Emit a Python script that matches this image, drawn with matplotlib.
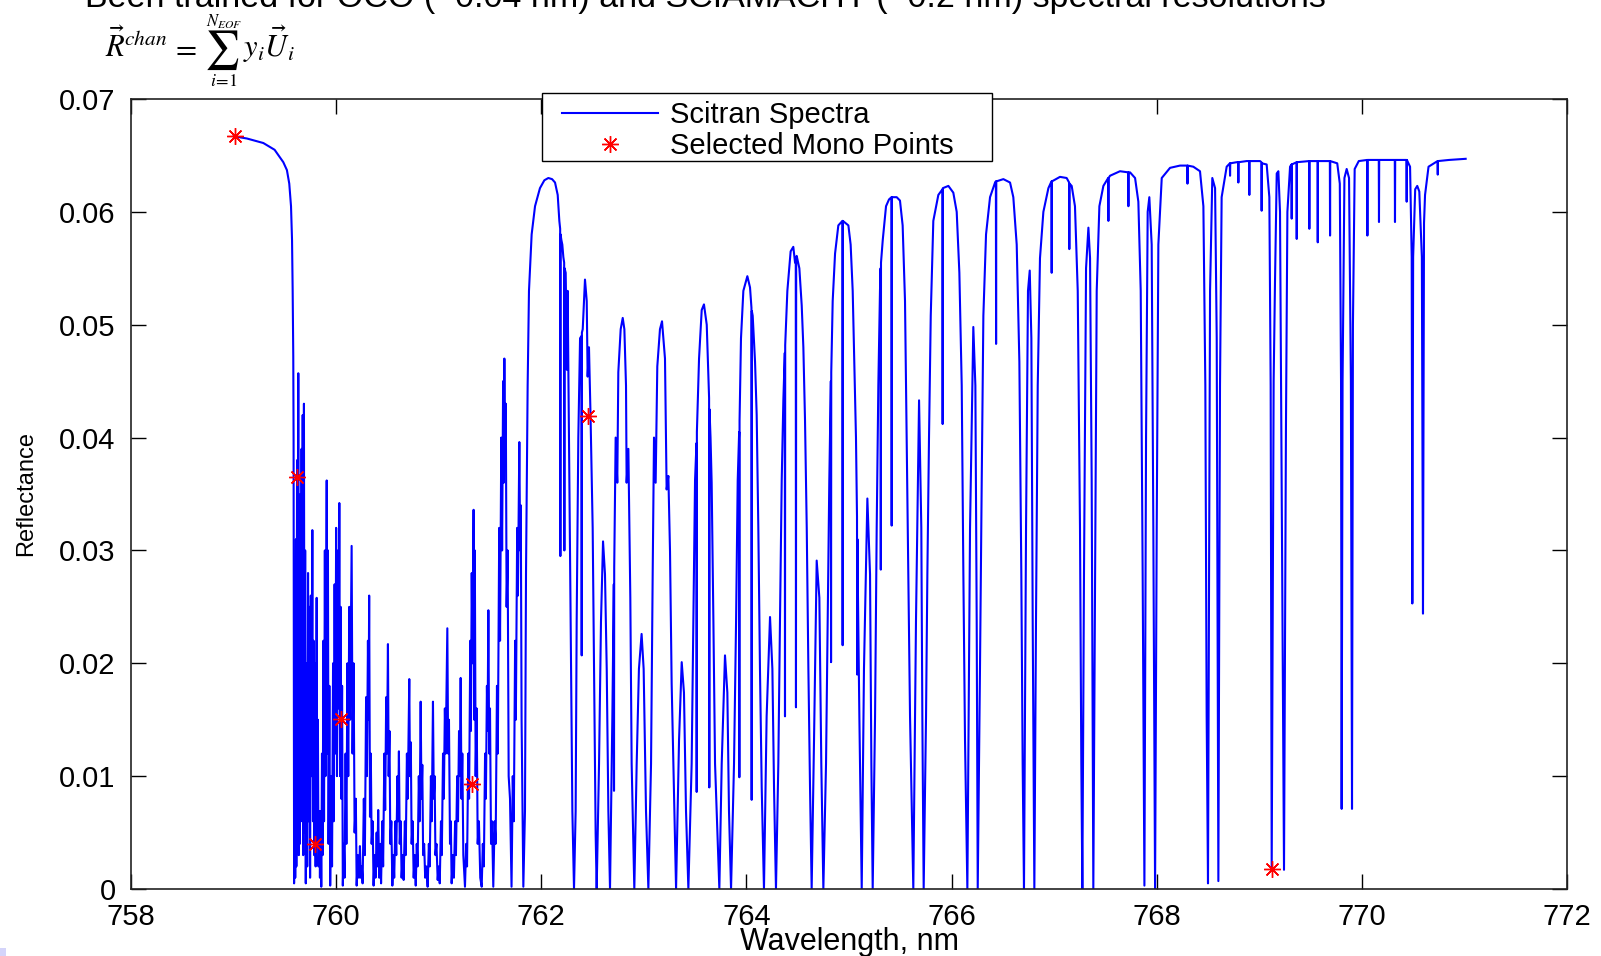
import numpy as np
import matplotlib
matplotlib.use("Agg")
import matplotlib.pyplot as plt
from matplotlib.patches import Rectangle

plt.rcParams['font.family'] = ['Liberation Sans', 'DejaVu Sans']
plt.rcParams['mathtext.fontset'] = 'stix'

# ---------------- data (wavelength nm, reflectance) ----------------
band_head = [(759.00, 0.0667), (759.13, 0.0665), (759.29, 0.0661), (759.40, 0.0655), (759.485, 0.0644),
             (759.52, 0.0637), (759.543, 0.0625), (759.56, 0.0605), (759.57, 0.0575), (759.576, 0.0531),
             (759.582, 0.0472), (759.585, 0.0400), (759.588, 0.0200), (759.59, 0.0005)]

r_branch = [(759.597,0.028),(759.601,0.001),(759.608,0.031),(759.612,0.002),(759.619,0.038),(759.624,0.010),
            (759.631,0.0457),(759.636,0.003),(759.641,0.030),(759.646,0.004),(759.652,0.035),(759.657,0.006),
            (759.663,0.039),(759.668,0.012),(759.674,0.042),(759.679,0.003),(759.686,0.043),(759.692,0.005),
            (759.698,0.030),(759.704,0.0005),(759.712,0.020),(759.718,0.002),(759.726,0.028),(759.732,0.006),
            (759.740,0.025),(759.746,0.001),(759.753,0.026),(759.760,0.010),(759.768,0.0318),(759.774,0.006),
            (759.780,0.022),(759.786,0.003),(759.794,0.020),(759.800,0.002),(759.810,0.0258),(759.816,0.004),
            (759.822,0.015),(759.828,0.002),(759.836,0.0069),(759.842,0.001),(759.849,0.0069),(759.855,0.0002),
            (759.862,0.012),(759.868,0.003),(759.876,0.022),(759.882,0.006),(759.890,0.030),(759.896,0.010),
            (759.908,0.0362),(759.914,0.012),(759.920,0.030),(759.926,0.004),(759.934,0.018),(759.942,0.0003),
            (759.952,0.010),(759.960,0.002),(759.970,0.020),(759.976,0.006),(759.985,0.027),(759.992,0.012),
            (760.000,0.032),(760.008,0.010),(760.018,0.030),(760.024,0.016),(760.031,0.0342),(760.038,0.010),
            (760.044,0.025),(760.050,0.008),(760.058,0.018),(760.065,0.0003),(760.075,0.004),(760.082,0.001),
            (760.092,0.012),(760.100,0.004),(760.110,0.020),(760.118,0.010),(760.128,0.025),(760.136,0.015),
            (760.151,0.0304),(760.160,0.012),(760.170,0.020),(760.180,0.005),(760.192,0.008),(760.200,0.0003),
            (760.212,0.003),(760.222,0.001),(760.232,0.0038),(760.240,0.001),(760.250,0.002),(760.258,0.0005),
            (760.270,0.008),(760.280,0.003),(760.292,0.017),(760.300,0.010),(760.310,0.022),(760.316,0.015),
            (760.322,0.026),(760.330,0.0064),(760.338,0.012),(760.346,0.004),(760.356,0.006),(760.365,0.0003),
            (760.375,0.003),(760.384,0.001),(760.395,0.005),(760.402,0.002),(760.410,0.007),(760.420,0.001),
            (760.430,0.004),(760.438,0.0005),(760.450,0.006),(760.458,0.002),(760.470,0.012),(760.478,0.007),
            (760.488,0.017),(760.496,0.012),(760.505,0.0217),(760.512,0.010),(760.520,0.014),(760.528,0.004),
            (760.538,0.006),(760.548,0.0003),(760.558,0.003),(760.566,0.001),(760.578,0.006),(760.586,0.003),
            (760.598,0.010),(760.604,0.006),(760.612,0.0122),(760.620,0.004),(760.630,0.006),(760.638,0.001),
            (760.650,0.003),(760.658,0.0008),(760.670,0.006),(760.678,0.003),(760.690,0.012),(760.698,0.008),
            (760.713,0.0186),(760.720,0.010),(760.728,0.013),(760.736,0.004),(760.746,0.006),(760.756,0.001),
            (760.766,0.003),(760.776,0.0003),(760.786,0.004),(760.794,0.002),(760.806,0.010),(760.814,0.006),
            (760.824,0.0166),(760.832,0.008),(760.840,0.011),(760.848,0.003),(760.858,0.004),(760.868,0.001),
            (760.880,0.002),(760.892,0.0002),(760.904,0.004),(760.912,0.002),(760.924,0.010),(760.932,0.006),
            (760.944,0.0166),(760.952,0.008),(760.960,0.010),(760.968,0.003),(760.978,0.004),(760.990,0.0008),
            (761.000,0.002),(761.010,0.0005),(761.022,0.006),(761.030,0.003),(761.042,0.012),(761.050,0.008),
            (761.060,0.016),(761.068,0.012),(761.084,0.0231),(761.092,0.012),(761.100,0.015),(761.110,0.004),
            (761.118,0.006),(761.126,0.0005),(761.138,0.003),(761.148,0.001),(761.160,0.006),(761.168,0.003),
            (761.180,0.010),(761.188,0.006),(761.198,0.014),(761.206,0.010),(761.214,0.0187),(761.222,0.008),
            (761.230,0.012),(761.240,0.003),(761.256,0.0002),(761.268,0.004),(761.276,0.002),(761.288,0.012),
            (761.296,0.008),(761.308,0.022),(761.314,0.014),(761.322,0.028),(761.330,0.020),(761.340,0.0336),
            (761.346,0.015),(761.352,0.030),(761.360,0.010),(761.370,0.016),(761.380,0.004),(761.392,0.006),
            (761.405,0.001),(761.419,0.0002),(761.430,0.004),(761.440,0.002),(761.452,0.012),(761.460,0.008),
            (761.470,0.018),(761.476,0.014),(761.484,0.0247),(761.492,0.012),(761.500,0.016),(761.510,0.004),
            (761.520,0.006),(761.532,0.0002),(761.545,0.006),(761.555,0.004),(761.568,0.018),(761.576,0.012),
            (761.590,0.032),(761.598,0.022),(761.610,0.040),(761.618,0.030),(761.628,0.045),(761.634,0.036),
            (761.640,0.047),(761.646,0.038),(761.654,0.043),(761.662,0.025),(761.672,0.030),(761.682,0.010),
            (761.695,0.008),(761.710,0.0002),(761.722,0.010),(761.732,0.006),(761.745,0.022),(761.752,0.015),
            (761.765,0.032),(761.772,0.026),(761.786,0.0396),(761.794,0.030),(761.800,0.034),(761.808,0.015),
            (761.816,0.008),(761.825,0.0002),(761.834,0.004)]

p_branch_a = [(761.841,0.0069),(761.851,0.0279),(761.867,0.0446),(761.880,0.0530),(761.906,0.0580),(761.939,0.0605),
              (761.987,0.0621),(762.030,0.0628),(762.069,0.0630),(762.105,0.0629),(762.134,0.0626),(762.160,0.0615),
              (762.176,0.0592),(762.184,0.0585),(762.186,0.0295),(762.188,0.0580),(762.196,0.0575),(762.205,0.0571),
              (762.215,0.0560),(762.223,0.0555),(762.225,0.0300),(762.227,0.0550),(762.238,0.0546),(762.250,0.0460),
              (762.257,0.0530),(762.265,0.0450),(762.273,0.0360),(762.286,0.0237),(762.303,0.0069),(762.319,0.0),
              (762.335,0.0069),(762.345,0.0237),(762.361,0.0400),(762.378,0.0488),(762.392,0.0490),(762.394,0.0207),
              (762.396,0.0493),(762.404,0.0496),(762.426,0.0540),(762.443,0.0521),(762.452,0.0454),(762.465,0.0480),
              (762.480,0.0420),(762.501,0.0320),(762.514,0.0195),(762.530,0.0049),(762.540,0.0),
              (762.563,0.0111),(762.582,0.0237),(762.602,0.0308),(762.621,0.0279),(762.638,0.0195),(762.654,0.0069),
              (762.670,0.0),
              (762.693,0.0153),(762.707,0.0270),(762.709,0.0087),(762.711,0.0285),(762.725,0.0400),(762.741,0.0360),
              (762.751,0.0458),(762.774,0.0496),(762.794,0.0506),(762.810,0.0496),(762.826,0.0446),(762.832,0.0360),
              (762.849,0.0390),(762.868,0.0258),(762.881,0.0111),(762.907,0.0),
              (762.930,0.0111),(762.952,0.0195),(762.978,0.0226),(762.998,0.0195),(763.021,0.0069),(763.044,0.0),
              (763.070,0.0111),(763.086,0.0279),(763.099,0.0400),(763.115,0.0360),(763.131,0.0463),(763.157,0.0496),
              (763.177,0.0503),(763.206,0.0470),(763.222,0.0354),(763.239,0.0366),(763.255,0.0299),(763.271,0.0182),
              (763.288,0.0111),(763.314,0.0),
              (763.343,0.0132),(763.369,0.0201),(763.391,0.0174),(763.411,0.0069),(763.434,0.0),
              (763.466,0.0111),(763.483,0.0237),(763.499,0.0362),(763.513,0.0395),(763.515,0.0086),(763.517,0.0405),
              (763.538,0.0470),(763.564,0.0513),(763.586,0.0518),(763.613,0.0500),(763.629,0.0454),(763.636,0.0435),
              (763.638,0.0090),(763.640,0.0425),(763.650,0.0400),(763.661,0.0360),(763.678,0.0237),(763.694,0.0111),
              (763.736,0.0),
              (763.759,0.0111),(763.791,0.0207),(763.814,0.0174),(763.830,0.0069),(763.850,0.0),
              (763.879,0.0111),(763.899,0.0237),(763.915,0.0362),(763.929,0.0405),(763.931,0.0099),(763.933,0.0415),
              (763.947,0.0488),(763.970,0.0530),(764.009,0.0543),(764.035,0.0533),(764.049,0.0515),(764.051,0.0079),
              (764.053,0.0512),(764.061,0.0508),(764.084,0.0467),(764.100,0.0420),(764.116,0.0320),(764.132,0.0195),
              (764.149,0.0090),(764.171,0.0),
              (764.197,0.0153),(764.230,0.0241),(764.253,0.0195),(764.269,0.0090),(764.288,0.0),
              (764.311,0.0111),(764.327,0.0237),(764.344,0.0362),(764.360,0.0433),(764.374,0.0475),(764.376,0.0153),
              (764.378,0.0482),(764.399,0.0530),(764.431,0.0565),(764.457,0.0569),(764.474,0.0555),(764.481,0.0558),
              (764.483,0.0161),(764.485,0.0559),(764.490,0.0561),(764.516,0.0550),(764.539,0.0517),(764.555,0.0480),
              (764.571,0.0416),(764.588,0.0320),(764.604,0.0195),(764.620,0.0090),(764.636,0.0),
              (764.659,0.0132),(764.685,0.0291),(764.711,0.0258),(764.730,0.0111),(764.750,0.0),
              (764.776,0.0111),(764.792,0.0237),(764.808,0.0362),(764.823,0.0450),(764.825,0.0201),(764.827,0.0458),
              (764.841,0.0521),(764.864,0.0563),(764.896,0.0588),(764.936,0.0592),(764.938,0.0216),(764.940,0.0592),
              (764.994,0.0588),(765.016,0.0571),(765.036,0.0530),(765.052,0.0467),(765.068,0.0400),(765.078,0.0330),
              (765.080,0.0190),(765.082,0.0310),(765.085,0.0279),(765.101,0.0153),(765.124,0.0),
              (765.146,0.0195),(765.179,0.0346),(765.205,0.0279),(765.218,0.0111),(765.231,0.0)]

p_branch_b = [(765.254,0.0153),(765.270,0.0320),(765.286,0.0446),(765.302,0.0530),(765.308,0.0550),(765.310,0.0283),
              (765.312,0.0555),(765.329,0.0575),(765.361,0.0605),(765.390,0.0611),(765.414,0.0613),(765.416,0.0322),
              (765.418,0.0613),(765.465,0.0613),(765.497,0.0610),(765.523,0.0588),(765.546,0.0521),(765.562,0.0400),
              (765.579,0.0279),(765.595,0.0153),(765.627,0.0),
              (765.653,0.0237),(765.683,0.0433),(765.705,0.0320),(765.715,0.0153),(765.728,0.0),
              (765.751,0.0153),(765.764,0.0279),(765.780,0.0400),(765.797,0.0508),(765.822,0.0592),(765.871,0.0615),
              (765.911,0.0620),(765.913,0.0412),(765.915,0.0621),(765.969,0.0623),(766.017,0.0617),(766.050,0.0600),
              (766.076,0.0546),(766.099,0.0446),(766.115,0.0279),(766.131,0.0132),(766.154,0.0),
              (766.180,0.0320),(766.212,0.0498),(766.232,0.0446),(766.245,0.0237),(766.255,0.0),
              (766.277,0.0195),(766.294,0.0362),(766.310,0.0508),(766.336,0.0580),(766.375,0.0613),(766.424,0.0626),
              (766.432,0.0627),(766.434,0.0483),(766.436,0.0627),(766.505,0.0629),(766.570,0.0626),(766.602,0.0613),
              (766.635,0.0571),(766.661,0.0467),(766.680,0.0279),(766.693,0.0111),(766.706,0.0),
              (766.726,0.0320),(766.745,0.0530),(766.762,0.0548),(766.778,0.0488),(766.791,0.0237),(766.807,0.0),
              (766.823,0.0237),(766.840,0.0446),(766.862,0.0559),(766.895,0.0600),(766.944,0.0621),(766.974,0.0627),
              (766.976,0.0546),(766.978,0.0627),(767.057,0.0631),(767.122,0.0630),(767.146,0.0626),(767.148,0.0567),
              (767.150,0.0625),(767.171,0.0623),(767.203,0.0605),(767.230,0.0530),(767.252,0.0320),(767.265,0.0111),
              (767.275,0.0),
              (767.291,0.0279),(767.311,0.0550),(767.334,0.0586),(767.350,0.0559),(767.366,0.0362),(767.382,0.0),
              (767.399,0.0279),(767.415,0.0530),(767.441,0.0605),(767.480,0.0623),(767.527,0.0630),(767.529,0.0592),
              (767.531,0.0630),(767.545,0.0632),(767.642,0.0636),(767.722,0.0635),(767.724,0.0605),(767.726,0.0635),
              (767.740,0.0635),(767.789,0.0630),(767.821,0.0609),(767.844,0.0530),(767.863,0.0279),(767.880,0.0003),
              (767.896,0.0400),(767.912,0.0600),(767.928,0.0613),(767.951,0.0571),(767.967,0.0320),(767.984,0.0),
              (768.000,0.0320),(768.016,0.0571),(768.049,0.0630),(768.130,0.0639),(768.227,0.0641),(768.298,0.0641),
              (768.300,0.0625),(768.302,0.0641),(768.357,0.0640),(768.422,0.0636),(768.455,0.0605),(768.474,0.0446),
              (768.487,0.0153),(768.500,0.0005),
              (768.520,0.0530),(768.542,0.0630),(768.569,0.0621),(768.585,0.0488),(768.601,0.0007),
              (768.617,0.0446),(768.633,0.0613),(768.682,0.0640),(768.713,0.0643),(768.715,0.0632),(768.717,0.0643),
              (768.780,0.0644),(768.794,0.0644),(768.796,0.0626),(768.798,0.0644),(768.877,0.0645),(768.901,0.0645),
              (768.903,0.0615),(768.905,0.0645),(769.007,0.0645),(769.021,0.0644),(769.023,0.0601),(769.025,0.0643),
              (769.072,0.0642),(769.098,0.0613),(769.111,0.0446),(769.121,0.0017),
              (769.140,0.0450),(769.153,0.0537),(769.170,0.0634),(769.186,0.0636),(769.202,0.0600),(769.218,0.0367),
              (769.241,0.0017),
              (769.260,0.0409),(769.274,0.0600),(769.300,0.0640),(769.314,0.0642),(769.316,0.0594),(769.318,0.0642),
              (769.363,0.0644),(769.365,0.0576),(769.367,0.0644),(769.486,0.0645),(769.488,0.0585),(769.490,0.0645),
              (769.568,0.0645),(769.570,0.0573),(769.572,0.0645),(769.688,0.0645),(769.690,0.0579),(769.692,0.0645),
              (769.760,0.0643),(769.785,0.0625),(769.797,0.0450),(769.803,0.0071),(769.812,0.0450),(769.830,0.0630),
              (769.852,0.0638),(769.875,0.0630),(769.893,0.0450),(769.904,0.0071),(769.913,0.0500),(769.930,0.0638),
              (769.970,0.0645),(770.052,0.0646),(770.054,0.0579),(770.056,0.0646),(770.165,0.0646),(770.167,0.0591),
              (770.169,0.0646),(770.321,0.0646),(770.323,0.0591),(770.325,0.0646),(770.435,0.0646),(770.437,0.0609),
              (770.439,0.0646),(770.470,0.0640),(770.486,0.0560),(770.492,0.0253),(770.500,0.0560),(770.520,0.0620),
              (770.540,0.0623),(770.560,0.0618),(770.585,0.0560),(770.596,0.0244),(770.606,0.0590),(770.616,0.0615),
              (770.650,0.0640),(770.738,0.0645),(770.740,0.0633),(770.742,0.0645),(770.850,0.0646),(771.012,0.0647)]

mono_wl = [759.01, 759.62, 759.79, 760.05, 761.32, 762.46, 769.12]
mono_refl = [0.0667, 0.0365, 0.0040, 0.0151, 0.0093, 0.0419, 0.0018]

x_ticks = [758, 760, 762, 764, 766, 768, 770, 772]
x_tick_labels = ['758', '760', '762', '764', '766', '768', '770', '772']
y_ticks = [0, 0.01, 0.02, 0.03, 0.04, 0.05, 0.06, 0.07]
y_tick_labels = ['0', '0.01', '0.02', '0.03', '0.04', '0.05', '0.06', '0.07']
legend_labels = ['Scitran Spectra', 'Selected Mono Points']
x_label = 'Wavelength, nm'
y_label = 'Reflectance'
header_text = 'Been trained for OCO (~0.04 nm) and SCIAMACHY (~0.2 nm) spectral resolutions'
formula_lhs = r'$\vec{R}^{chan}$'
formula_eq = r'$=$'
formula_sum = r'$\sum$'
formula_upper = r'$N_{EOF}$'
formula_lower = r'$i\!=\!1$'
formula_rhs = r'$y_i\vec{U}_i$'

# ---------------- figure ----------------
W, H = 1601, 956
fig = plt.figure(figsize=(W / 100, H / 100), dpi=100)
ax = fig.add_axes([131 / W, (H - 889) / H, 1436 / W, 790 / H])


def fx(px):
    return px / W


def fy(py):
    return 1 - py / H


spectrum = band_head + r_branch + p_branch_a + p_branch_b
wl = np.array([p[0] for p in spectrum])
refl = np.array([p[1] for p in spectrum])

spec_line, = ax.plot(wl, refl, color='#0000ff', lw=1.5, zorder=2)
mono_pts, = ax.plot(mono_wl, mono_refl, linestyle='none', marker=(8, 2, 0), markersize=12,
                    markeredgecolor='#ff0000', markerfacecolor='#ff0000', markeredgewidth=1.0,
                    zorder=3, clip_on=False)

ax.set_xlim(758, 772)
ax.set_ylim(0, 0.07)
ax.set_xticks(x_ticks)
ax.set_xticklabels(x_tick_labels)
ax.set_yticks(y_ticks)
ax.set_yticklabels(y_tick_labels)
ax.tick_params(direction='in', length=11, width=1.0, top=True, right=True,
               labelsize=21, colors='black')
ax.tick_params(axis='x', pad=10)
ax.tick_params(axis='y', pad=11)
for s in ax.spines.values():
    s.set_linewidth(1.2)
    s.set_color('#222222')

ax.set_xlabel(x_label, fontsize=22, va='top')
ax.xaxis.set_label_coords(0.5, (889 - 927) / 790)
ax.set_ylabel(y_label, fontsize=17, va='center')
ax.yaxis.set_label_coords((26.5 - 131) / 1436, 0.5)

# legend: frame drawn as a box matching the reference, entries via the library's legend
legend_box = Rectangle((fx(542), fy(161)), (992 - 542) / W, (161 - 93) / H,
                       transform=fig.transFigure, facecolor='white', edgecolor='black',
                       linewidth=1.0, zorder=4, clip_on=False)
ax.add_patch(legend_box)
leg = ax.legend([spec_line, mono_pts], legend_labels, loc='upper left',
                bbox_to_anchor=(fx(562), fy(101)), bbox_transform=fig.transFigure,
                fontsize=21, frameon=False, handlelength=3.3, handletextpad=0.4,
                borderpad=0, labelspacing=0.12, borderaxespad=0, numpoints=1)
leg.set_zorder(5)

fig.text(fx(85), fy(7.5), header_text, fontsize=24.5, ha='left', va='baseline')
fig.text(fx(105), fy(57), formula_lhs, fontsize=22, ha='left', va='baseline')
fig.text(fx(171), fy(57), formula_eq, fontsize=22, ha='left', va='baseline')
fig.text(fx(222), fy(50), formula_sum, fontsize=28, ha='center', va='center')
fig.text(fx(224), fy(22), formula_upper, fontsize=12, ha='center', va='center')
fig.text(fx(224), fy(82), formula_lower, fontsize=13, ha='center', va='center')
fig.text(fx(243), fy(57), formula_rhs, fontsize=22, ha='left', va='baseline')

fig.patches.append(Rectangle((0, 0), 6 / W, 8 / H, transform=fig.transFigure,
                             facecolor='#d4d4fa', edgecolor='none'))

fig.savefig('out.png', dpi=100)
